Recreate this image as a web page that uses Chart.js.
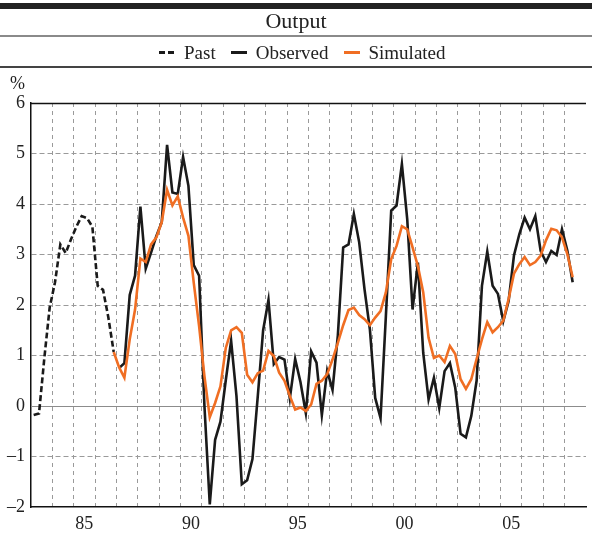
<!DOCTYPE html>
<html>
<head>
<meta charset="utf-8">
<title>Output</title>
<script src="https://cdn.jsdelivr.net/npm/chart.js@4.4.1/dist/chart.umd.min.js"></script>
<style>
  html, body { margin: 0; padding: 0; background: #fff; }
  body {
    width: 592px; height: 544px; position: relative; overflow: hidden;
    font-family: "Liberation Serif", "Times New Roman", serif; color: #222;
  }
  #chart { position: absolute; left: 0; top: 0; }
  #topbar { position: absolute; left: 0; top: 3px; width: 592px; height: 6px; background: #222; }
  #title { position: absolute; left: 0; top: 10px; width: 592px; text-align: center; font-size: 22px; line-height: 22px; }
  #rule1 { position: absolute; left: 0; top: 35px; width: 592px; height: 2px; background: #8a8a8a; }
  #rule2 { position: absolute; left: 0; top: 66px; width: 592px; height: 2px; background: #444; }
  #legend { position: absolute; left: 159px; top: 43px; display: flex; align-items: center; font-size: 19px; line-height: 19px; white-space: nowrap; }
  .swatch { width: 16px; height: 3px; margin-right: 9px; }
  .label { margin-right: 15px; }
  #unit { position: absolute; left: 10px; top: 74px; font-size: 18px; line-height: 18px; }
</style>
</head>
<body>
<canvas id="chart" width="592" height="544"></canvas>
<div id="topbar"></div>
<div id="title">Output</div>
<div id="rule1"></div>
<div id="legend">
  <span class="swatch" style="background: repeating-linear-gradient(to right, #1a1a1a 0 6px, transparent 6px 9px);"></span><span class="label">Past</span>
  <span class="swatch" style="background: #1a1a1a;"></span><span class="label">Observed</span>
  <span class="swatch" style="background: #f06e23;"></span><span class="label">Simulated</span>
</div>
<div id="rule2"></div>
<div id="unit">%</div>

<script>
// Quarterly output growth, %
const pastStart = 1983;      // first quarter of the past series: 1983 Q1
const modelStart = 1986.75;  // first quarter of observed / simulated: 1986 Q4

const pastValues = [-0.18, -0.15, 0.95, 1.95, 2.45, 3.2, 3.03, 3.3,
  3.55, 3.76, 3.72, 3.55, 2.38, 2.3, 1.75, 1.07];

const observedValues = [null, 0.75, 0.85, 2.2, 2.58, 3.95, 2.72, 3.04, 3.37, 3.64,
  5.17, 4.23, 4.2, 4.93, 4.36, 2.79, 2.58, 0.0, -1.95, -0.67,
  -0.31, 0.51, 1.29, 0.2, -1.55, -1.47, -1.05, 0.2, 1.5, 2.1,
  0.83, 0.97, 0.92, 0.15, 0.93, 0.47, -0.14, 1.08, 0.86, -0.18,
  0.7, 0.32, 1.4, 3.14, 3.2, 3.8, 3.24, 2.31, 1.52, 0.16,
  -0.24, 1.78, 3.87, 3.97, 4.79, 3.7, 1.91, 2.84, 1.05, 0.13,
  0.56, -0.04, 0.69, 0.85, 0.36, -0.55, -0.62, -0.2, 0.5, 2.38,
  3.06, 2.38, 2.22, 1.68, 2.08, 2.98, 3.4, 3.73, 3.5, 3.76,
  3.07, 2.85, 3.07, 2.99, 3.5, 3.08, 2.45];

const simulatedValues = [1.07, 0.77, 0.56, 1.32, 1.91, 2.92, 2.85, 3.2, 3.34, 3.64,
  4.28, 3.97, 4.15, 3.73, 3.37, 2.44, 1.58, 0.59, -0.22, 0.06,
  0.39, 1.15, 1.5, 1.56, 1.45, 0.62, 0.47, 0.65, 0.7, 1.09,
  0.99, 0.66, 0.5, 0.2, -0.07, -0.03, -0.1, 0.03, 0.44, 0.5,
  0.63, 0.92, 1.25, 1.6, 1.9, 1.95, 1.8, 1.72, 1.6, 1.75,
  1.88, 2.25, 2.91, 3.17, 3.56, 3.5, 3.14, 2.77, 2.25, 1.35,
  0.95, 1.0, 0.87, 1.19, 1.03, 0.53, 0.34, 0.53, 0.93, 1.32,
  1.66, 1.46, 1.56, 1.69, 2.12, 2.62, 2.81, 2.95, 2.79, 2.85,
  2.98, 3.28, 3.51, 3.48, 3.34, 3.01, 2.55];

const yTicks = [-2, -1, 0, 1, 2, 3, 4, 5, 6];
const xLabelYears = [1985, 1990, 1995, 2000, 2005];
const xLabels = ['85', '90', '95', '00', '05'];

const FONT = '"Liberation Serif", "Times New Roman", serif';
const GRID = '#9a9a9a';
const NONE = 'rgba(0,0,0,0)';

// each quarter sits in the middle of its slot on the time axis
function toPoints(start, values) {
    return values.map((v, i) => ({ x: start + (i + 0.5) / 4, y: v }));
}

// solid zero line and top frame line (the other grid lines are dashed)
const frameLines = {
    id: 'frameLines',
    beforeDatasetsDraw(chart) {
        const { ctx, chartArea, scales } = chart;
        const y0 = Math.round(scales.y.getPixelForValue(0)) + 0.5;
        const yTop = Math.round(scales.y.getPixelForValue(6)) + 0.5;
        ctx.save();
        ctx.lineWidth = 1.2;
        ctx.strokeStyle = '#8c8c8c';
        ctx.beginPath();
        ctx.moveTo(chartArea.left, y0);
        ctx.lineTo(chartArea.right, y0);
        ctx.stroke();
        ctx.lineWidth = 1.5;
        ctx.strokeStyle = '#111';
        ctx.beginPath();
        ctx.moveTo(chartArea.left - 1, yTop);
        ctx.lineTo(chartArea.right, yTop);
        ctx.stroke();
        ctx.restore();
    }
};

const ctx = document.getElementById('chart').getContext('2d');
const chart = new Chart(ctx, {
    type: 'line',
    data: {
        datasets: [
            {
                label: 'Simulated',
                data: toPoints(modelStart, simulatedValues),
                borderColor: '#f06e23',
                borderWidth: 2.6,
                order: 0
            },
            {
                label: 'Observed',
                data: toPoints(modelStart, observedValues),
                borderColor: '#1a1a1a',
                borderWidth: 2.6,
                order: 1
            },
            {
                label: 'Past',
                data: toPoints(pastStart, pastValues),
                borderColor: '#1a1a1a',
                borderWidth: 2.6,
                borderDash: [6, 3],
                order: 2
            }
        ]
    },
    options: {
        responsive: false,
        animation: false,
        events: [],
        layout: { padding: { top: 103, left: 0, right: 0, bottom: 0 } },
        elements: {
            point: { radius: 0 },
            line: { tension: 0, fill: false }
        },
        plugins: {
            legend: { display: false },
            tooltip: { enabled: false }
        },
        scales: {
            x: {
                type: 'linear',
                min: 1983,
                max: 2009,
                afterBuildTicks: scale => {
                    const ticks = [];
                    for (let y = 1983; y <= 2009; y++) ticks.push({ value: y });
                    xLabelYears.forEach(y => ticks.push({ value: y + 0.5 }));
                    ticks.sort((a, b) => a.value - b.value);
                    scale.ticks = ticks;
                },
                afterFit: scale => { scale.height = 37; },
                grid: {
                    drawTicks: false,
                    lineWidth: 1,
                    color: c => {
                        const v = c.tick ? c.tick.value : null;
                        return (Number.isInteger(v) && v > 1983 && v < 2009) ? GRID : NONE;
                    }
                },
                border: { color: '#111', width: 1.5, dash: [4, 4] },
                ticks: {
                    autoSkip: false,
                    maxRotation: 0,
                    padding: 6,
                    color: '#222',
                    font: { family: FONT, size: 18 },
                    callback: v => {
                        const i = xLabelYears.indexOf(v - 0.5);
                        return i >= 0 ? xLabels[i] : '';
                    }
                }
            },
            y: {
                min: -2,
                max: 6,
                afterBuildTicks: scale => {
                    scale.ticks = yTicks.map(v => ({ value: v }));
                },
                afterFit: scale => { scale.width = 31; },
                grid: {
                    drawTicks: false,
                    lineWidth: 1,
                    color: c => {
                        const v = c.tick ? c.tick.value : null;
                        return (v > -2 && v < 6 && v !== 0) ? GRID : NONE;
                    }
                },
                border: { color: '#111', width: 1.5, dash: [5, 3] },
                ticks: {
                    padding: 6,
                    color: '#222',
                    font: { family: FONT, size: 18 },
                    callback: v => (v < 0 ? '\u2013' + Math.abs(v) : String(v))
                }
            }
        }
    },
    plugins: [frameLines]
});
</script>
</body>
</html>
